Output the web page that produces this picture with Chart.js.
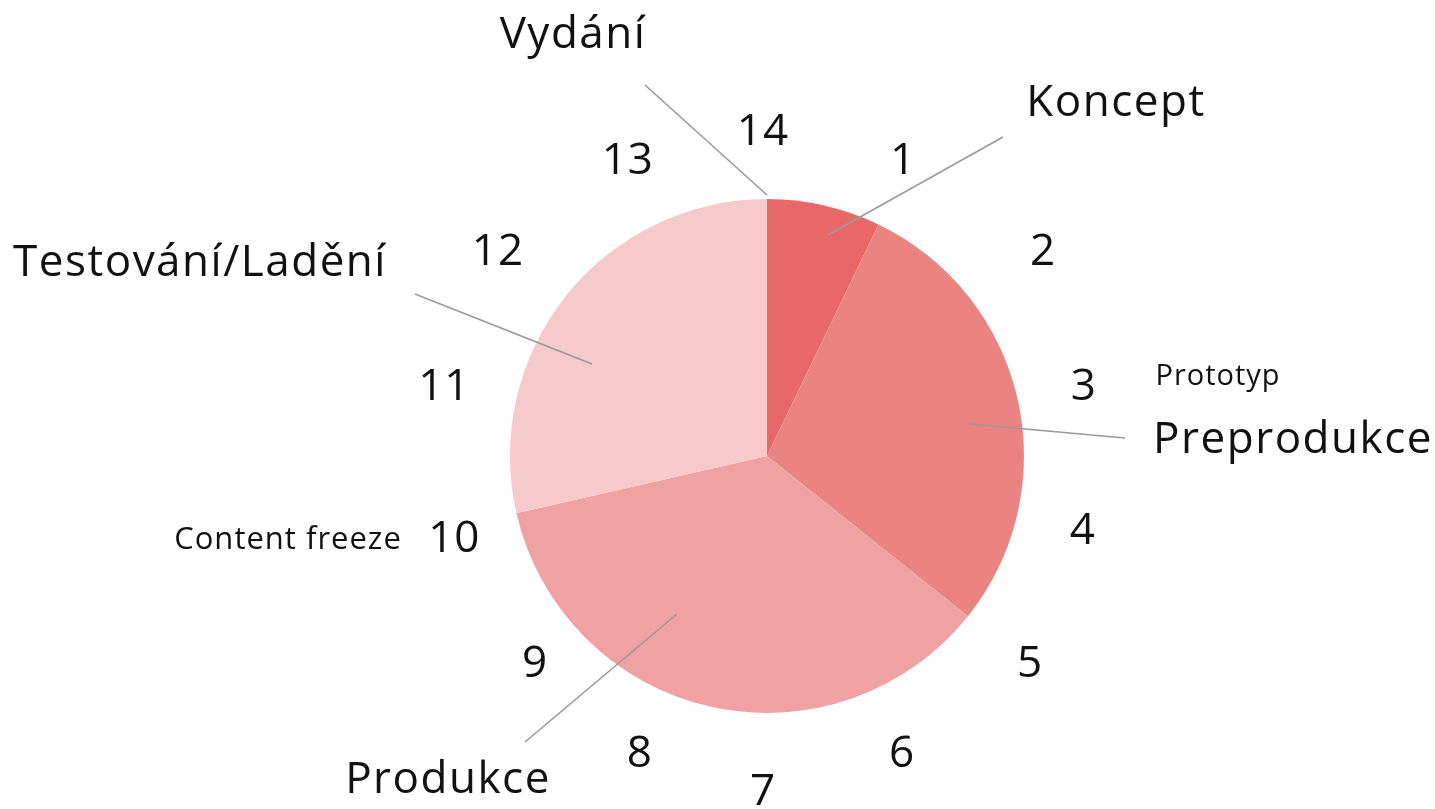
<!DOCTYPE html>
<html>
<head>
<meta charset="utf-8">
<script src="https://cdn.jsdelivr.net/npm/chart.js@4.4.0/dist/chart.umd.min.js"></script>
<style>
  html, body { margin: 0; padding: 0; background: #fff; }
  canvas { display: block; }
</style>
</head>
<body>
<canvas id="phase-chart" width="1435" height="809"></canvas>
<script>
// Development phases and their length (in steps of the 14-step cycle)
const phases = ["Koncept", "Preprodukce", "Produkce", "Testování/Ladění", "Vydání"];
const phaseSteps = [1, 4, 5, 4, 0];
const phaseColors = ["#E8686A", "#EB8382", "#F0A2A2", "#F6C9CA", "#E05A5C"];

// Step numbers around the dial
const stepLabels = ["1", "2", "3", "4", "5", "6", "7", "8", "9", "10", "11", "12", "13", "14"];

// Milestones written next to a step
const milestones = ["Prototyp", "Content freeze"];

const FONT = '"Open Sans", "Noto Sans", sans-serif';

// Nudges for the step numbers (px), they are not on a perfect circle
const stepNudge = [
  [-7, 1], [18, 0], [-5, 3], [-6, 0], [5, 1], [-8, -1], [-4, 4],
  [16, -1], [26, 1], [9, 8], [-1, 3], [-11, 0], [4, 1], [-4, 4],
];

// Phase callouts: text position + leader line, relative to the pie centre
const callouts = {
  "Koncept":          { text: [349, -353], line: [[61, -221], [236, -319]] },
  "Preprodukce":      { text: [526, -16],  line: [[203, -32], [358, -18]] },
  "Produkce":         { text: [-319, 324], line: [[-90, 158], [-242, 286]] },
  "Testování/Ladění": { text: [-567, -193], line: [[-175, -92], [-352, -162]] },
  "Vydání":           { text: [-194, -421], line: [[0, -261], [-122, -371]] },
};
const milestoneText = {
  "Prototyp": { pos: [451, -79], size: 29 },
  "Content freeze": { pos: [-479, 84], size: 31 },
};

const dialPlugin = {
  id: "dial",
  afterDraw(chart) {
    const ctx = chart.ctx;
    const arc = chart.getDatasetMeta(0).data[0];
    const cx = arc.x;
    const cy = arc.y;
    const r = arc.outerRadius;
    const numR = r * 1.284;

    ctx.save();
    ctx.fillStyle = "#111";
    ctx.textAlign = "center";
    ctx.textBaseline = "middle";
    ctx.letterSpacing = "1px";

    // step numbers
    ctx.font = "44px " + FONT;
    stepLabels.forEach((lbl, i) => {
      const a = ((i + 1) / stepLabels.length) * Math.PI * 2 - Math.PI / 2;
      const x = cx + Math.cos(a) * numR + stepNudge[i][0];
      const y = cy + Math.sin(a) * numR + stepNudge[i][1];
      ctx.fillText(lbl, x, y + 2);
    });

    // leader lines
    ctx.strokeStyle = "#9a9a9a";
    ctx.lineWidth = 1.6;
    phases.forEach((p) => {
      const c = callouts[p];
      ctx.beginPath();
      ctx.moveTo(cx + c.line[0][0], cy + c.line[0][1]);
      ctx.lineTo(cx + c.line[1][0], cy + c.line[1][1]);
      ctx.stroke();
    });

    // phase names
    ctx.font = "44px " + FONT;
    ctx.letterSpacing = "1.5px";
    phases.forEach((p) => {
      const c = callouts[p];
      ctx.fillText(p, cx + c.text[0], cy + c.text[1]);
    });

    // milestones
    milestones.forEach((m) => {
      const t = milestoneText[m];
      ctx.font = t.size + "px " + FONT;
      ctx.letterSpacing = "1px";
      ctx.fillText(m, cx + t.pos[0], cy + t.pos[1]);
    });
    ctx.restore();
  },
};

const ctx = document.getElementById("phase-chart").getContext("2d");
new Chart(ctx, {
  type: "pie",
  data: {
    labels: phases,
    datasets: [
      {
        data: phaseSteps,
        backgroundColor: phaseColors,
        borderWidth: 0,
        hoverOffset: 0,
      },
    ],
  },
  options: {
    responsive: false,
    animation: false,
    layout: { padding: { left: 510, right: 411, top: 199, bottom: 96 } },
    plugins: {
      legend: { display: false },
      tooltip: { enabled: false },
    },
  },
  plugins: [dialPlugin],
});
</script>
</body>
</html>
